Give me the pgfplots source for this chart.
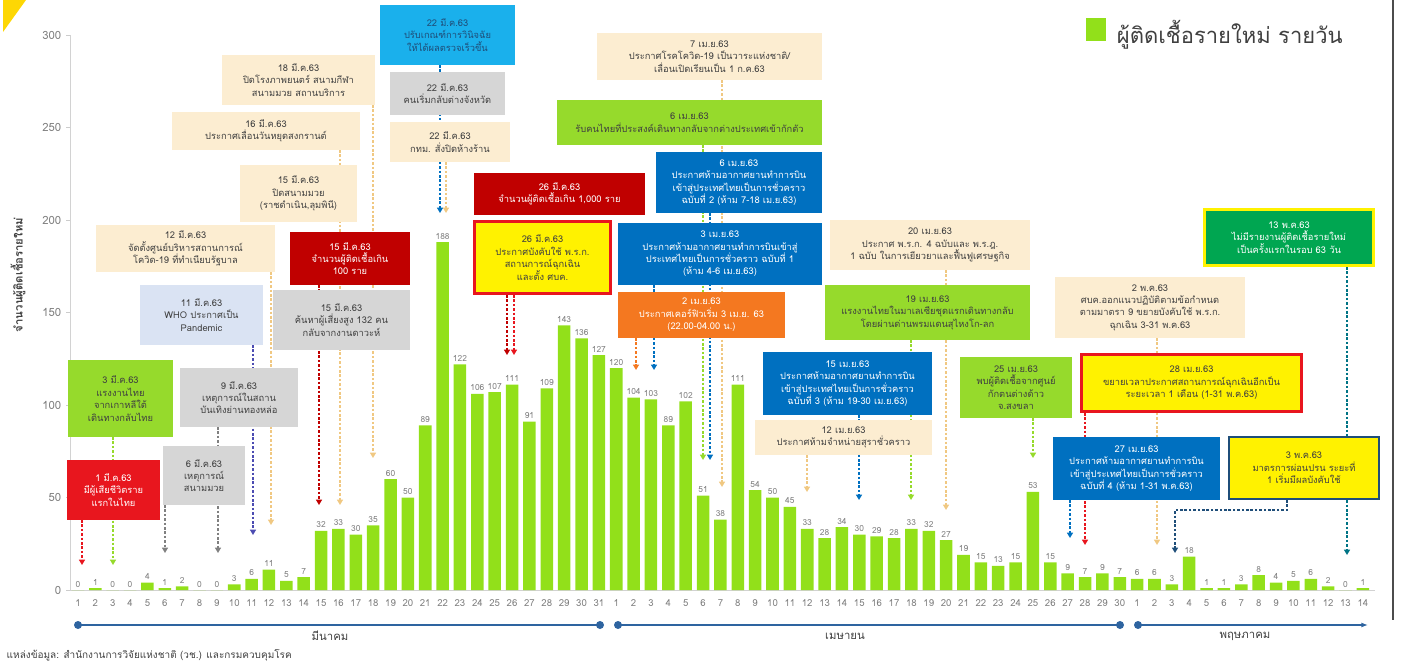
\documentclass[border=0pt]{standalone}
\usepackage{pgfplots}
\usepackage{pgfplotstable}
\pgfplotsset{compat=1.18}
\usepackage{fontspec}
\setmainfont{Loma}[Script=Thai]
\usetikzlibrary{arrows.meta}

\definecolor{barcol}{RGB}{146,224,26}
\definecolor{boxgreen}{RGB}{150,218,44}
\definecolor{beige}{RGB}{252,237,209}
\definecolor{greybox}{RGB}{214,214,214}
\definecolor{whobox}{RGB}{218,227,243}
\definecolor{redbox}{RGB}{232,22,30}
\definecolor{darkred}{RGB}{192,0,0}
\definecolor{cyanbox}{RGB}{26,176,236}
\definecolor{bluebox}{RGB}{0,112,192}
\definecolor{orangebox}{RGB}{244,120,32}
\definecolor{darkgreen}{RGB}{0,166,81}
\definecolor{navy}{RGB}{31,78,121}
\definecolor{tanline}{RGB}{240,200,130}
\definecolor{monthline}{RGB}{46,100,160}
\definecolor{txt}{RGB}{64,64,64}

% daily new cases, 1 Mar - 14 May 2020
\pgfplotstableread{
d v
1 0
2 1
3 0
4 0
5 4
6 1
7 2
8 0
9 0
10 3
11 6
12 11
13 5
14 7
15 32
16 33
17 30
18 35
19 60
20 50
21 89
22 188
23 122
24 106
25 107
26 111
27 91
28 109
29 143
30 136
31 127
32 120
33 104
34 103
35 89
36 102
37 51
38 38
39 111
40 54
41 50
42 45
43 33
44 28
45 34
46 30
47 29
48 28
49 33
50 32
51 27
52 19
53 15
54 13
55 15
56 53
57 15
58 9
59 7
60 9
61 7
62 6
63 6
64 3
65 18
66 1
67 1
68 3
69 8
70 4
71 5
72 6
73 2
74 0
75 1
}\cases

\tikzset{
  bx/.style={inner sep=1pt, align=center, text=txt,
    font=\fontsize{7}{9.3}\selectfont},
  dl/.style={line width=1.1pt, dash pattern=on 2pt off 1.3pt,
    -{Triangle[length=4pt,width=4.5pt]}},
}
% box: centre x, centre y, width, height (pixels), style, text
\newcommand{\bx}[6]{\node[bx,#5,minimum width=#3*0.75pt,minimum height=#4*0.75pt] at (#1,#2) {#6};}
% dashed pointer: colour, x, y from, y to (pixels)
\newcommand{\dl}[4]{\draw[dl,#1] (#2,#3) -- (#2,#4);}

\begin{document}
\begin{tikzpicture}
\path[use as bounding box] (0,0) rectangle (1068pt,498.75pt);
\begin{axis}[
  at={(52.5pt,56.25pt)}, anchor=south west,
  scale only axis, width=978.75pt, height=416.25pt,
  xmin=0.54, xmax=75.7, ymin=0, ymax=300,
  ybar, bar width=9.4pt,
  axis x line*=bottom, axis y line*=left,
  axis line style={draw=gray!35, line width=0.6pt, -},
  ytick={0,50,...,300},
  xtick=data,
  xticklabels={1,2,3,4,5,6,7,8,9,10,11,12,13,14,15,16,17,18,19,20,21,22,23,24,25,26,27,28,29,30,31,
    1,2,3,4,5,6,7,8,9,10,11,12,13,14,15,16,17,18,19,20,21,22,23,24,25,26,27,28,29,30,
    1,2,3,4,5,6,7,8,9,10,11,12,13,14},
  xtick style={draw=none},
  ytick style={draw=gray!40},
  major tick length=3pt, tick align=outside,
  /pgf/number format/assume math mode=true,
  xticklabel style={font=\fontsize{7.2}{8}\selectfont, text=gray, yshift=-3pt, inner sep=1pt},
  yticklabel style={font=\fontsize{8.5}{9}\selectfont, text=gray},
  legend style={at={(0.878,1.004)}, anchor=center, draw=none, fill=none,
    font=\fontsize{16.5}{18}\selectfont, text=txt},
]
\addplot[fill=barcol, draw=none,
  legend image code/.code={\fill[barcol] (0pt,-6pt) rectangle (15pt,11pt);},
  nodes near coords,
  every node near coord/.append style={font=\fontsize{6.3}{7}\selectfont, text=gray, inner sep=2pt}]
  table[x=d, y=v] {\cases};
\addlegendentry{\hspace{6pt}ผู้ติดเชื้อรายใหม่ รายวัน}
\end{axis}

\begin{scope}[x=0.75pt, y=-0.75pt, yshift=498.75pt]
% corner mark and slide border
\fill[yellow!75!orange] (3,0) -- (26,0) -- (3,32) -- cycle;
\draw[line width=1.4pt, black!70] (1393,0) -- (1393,620);

% axis title and source
\node[rotate=90, font=\bfseries\fontsize{8.5}{9}\selectfont, text=txt] at (18,275) {จำนวนผู้ติดเชื้อรายใหม่};
\node[anchor=west, font=\fontsize{7.5}{8}\selectfont, text=txt] at (2,655) {แหล่งข้อมูล: สำนักงานการวิจัยแห่งชาติ (วช.) และกรมควบคุมโรค};

% month bands
\draw[monthline, line width=1.3pt] (78,625) -- (600,625);
\fill[monthline] (78,625) circle (3pt) (600,625) circle (3pt);
\draw[monthline, line width=1.3pt] (618,625) -- (1120,625);
\fill[monthline] (618,625) circle (3pt) (1120,625) circle (3pt);
\draw[monthline, line width=1.3pt, -{Latex[length=5pt]}] (1138,625) -- (1368,625);
\fill[monthline] (1138,625) circle (3pt);
\node[font=\fontsize{8.5}{9}\selectfont, text=txt] at (330,636) {มีนาคม};
\node[font=\fontsize{8.5}{9}\selectfont, text=txt] at (845,636) {เมษายน};
\node[font=\fontsize{8.5}{9}\selectfont, text=txt] at (1245,636) {พฤษภาคม};

% pointers
\dl{redbox}{82}{520}{565}
\dl{boxgreen}{113}{437}{565}
\dl{gray}{165}{505}{553}
\dl{gray}{218}{427}{553}
\dl{gray!60!blue}{253}{345}{535}
\dl{tanline}{271}{272}{525}
\dl{darkred}{319}{285}{505}
\dl{tanline}{340}{150}{505}
\dl{tanline}{373}{105}{458}
\dl{bluebox}{440}{65}{213}
\dl{tanline}{446}{162}{213}
\dl{darkred}{507}{295}{355}
\dl{redbox}{514}{295}{355}
\dl{orangebox}{636}{338}{370}
\dl{bluebox}{654}{285}{370}
\dl{boxgreen}{703}{145}{460}
\dl{bluebox}{710}{213}{460}
\dl{tanline}{722}{80}{487}
\dl{tanline}{807}{455}{492}
\dl{bluebox}{859}{415}{500}
\dl{boxgreen}{911}{340}{500}
\dl{tanline}{946}{270}{510}
\dl{boxgreen}{1033}{418}{458}
\dl{bluebox}{1070}{500}{538}
\dl{redbox}{1085}{413}{545}
\dl{tanline}{1157}{338}{545}
\draw[dl,navy] (1287,500) -- (1287,510) -- (1175,510) -- (1175,553);
\dl{darkgreen!70!blue}{1347}{267}{555}

% March
\bx{113.5}{490}{93}{60}{fill=redbox,text=white}{1 มี.ค.63\\มีผู้เสียชีวิตราย\\แรกในไทย}
\bx{120.5}{398.5}{105}{77}{fill=boxgreen}{3 มี.ค.63\\แรงงานไทย\\จากเกาหลีใต้\\เดินทางกลับไทย}
\bx{204}{475.5}{82}{59}{fill=greybox}{6 มี.ค.63\\เหตุการณ์\\สนามมวย}
\bx{239}{397.5}{118}{59}{fill=greybox}{9 มี.ค.63\\เหตุการณ์ในสถาน\\บันเทิงย่านทองหล่อ}
\bx{201.5}{315}{123}{60}{fill=whobox}{11 มี.ค.63\\WHO ประกาศเป็น\\Pandemic}
\bx{185.5}{248.5}{179}{47}{fill=beige}{12 มี.ค.63\\จัดตั้งศูนย์บริหารสถานการณ์\\โควิด-19 ที่ทำเนียบรัฐบาล}
\bx{298.5}{193.5}{117}{57}{fill=beige}{15 มี.ค.63\\ปิดสนามมวย\\(ราชดำเนิน,ลุมพินี)}
\bx{266}{131}{188}{38}{fill=beige}{16 มี.ค.63\\ประกาศเลื่อนวันหยุดสงกรานต์}
\bx{298.5}{80}{153}{50}{fill=beige}{18 มี.ค.63\\ปิดโรงภาพยนตร์ สนามกีฬา\\สนามมวย สถานบริการ}
\bx{350}{258.5}{120}{53}{fill=darkred,text=white}{15 มี.ค.63\\จำนวนผู้ติดเชื้อเกิน\\100 ราย}
\bx{341.5}{320}{137}{60}{fill=greybox}{15 มี.ค.63\\ค้นหาผู้เสี่ยงสูง 132 คน\\กลับจากงานดาวะห์}
\bx{447.5}{35}{135}{60}{fill=cyanbox,text=navy}{22 มี.ค.63\\ปรับเกณฑ์การวินิจฉัย\\ให้ได้ผลตรวจเร็วขึ้น}
\bx{447.5}{93.5}{115}{43}{fill=greybox}{22 มี.ค.63\\คนเริ่มกลับต่างจังหวัด}
\bx{450}{142}{120}{40}{fill=beige}{22 มี.ค.63\\กทม. สั่งปิดห้างร้าน}
\bx{559.5}{194}{171}{42}{fill=darkred,text=white}{26 มี.ค.63\\จำนวนผู้ติดเชื้อเกิน 1,000 ราย}
\bx{542.5}{257.5}{136}{72}{fill=yellow,draw=redbox,line width=1.6pt}{26 มี.ค.63\\ประกาศบังคับใช้ พ.ร.ก.\\สถานการณ์ฉุกเฉิน\\และตั้ง ศบค.}

% April
\bx{709.5}{56.5}{225}{47}{fill=beige}{7 เม.ย.63\\ประกาศโรคโควิด-19 เป็นวาระแห่งชาติ/\\เลื่อนเปิดเรียนเป็น 1 ก.ค.63}
\bx{689.5}{122.5}{265}{45}{fill=boxgreen}{6 เม.ย.63\\รับคนไทยที่ประสงค์เดินทางกลับจากต่างประเทศเข้ากักตัว}
\bx{739}{182.5}{166}{61}{fill=bluebox,text=white}{6 เม.ย.63\\ประกาศห้ามอากาศยานทำการบิน\\เข้าสู่ประเทศไทยเป็นการชั่วคราว\\ฉบับที่ 2 (ห้าม 7-18 เม.ย.63)}
\bx{720}{254}{204}{62}{fill=bluebox,text=white}{3 เม.ย.63\\ประกาศห้ามอากาศยานทำการบินเข้าสู่\\ประเทศไทยเป็นการชั่วคราว ฉบับที่ 1\\(ห้าม 4-6 เม.ย.63)}
\bx{701.5}{315}{167}{46}{fill=orangebox,text=white}{2 เม.ย.63\\ประกาศเคอร์ฟิวเริ่ม 3 เม.ย. 63\\(22.00-04.00 น.)}
\bx{930}{245}{200}{50}{fill=beige}{20 เม.ย.63\\ประกาศ พ.ร.ก. 4 ฉบับและ พ.ร.ฎ.\\1 ฉบับ ในการเยียวยาและฟื้นฟูเศรษฐกิจ}
\bx{927.5}{312.5}{205}{55}{fill=boxgreen}{19 เม.ย.63\\แรงงานไทยในมาเลเซียชุดแรกเดินทางกลับ\\โดยผ่านด่านพรมแดนสุไหงโก-ลก}
\bx{847.5}{383.5}{169}{63}{fill=bluebox,text=white}{15 เม.ย.63\\ประกาศห้ามอากาศยานทำการบิน\\เข้าสู่ประเทศไทยเป็นการชั่วคราว\\ฉบับที่ 3 (ห้าม 19-30 เม.ย.63)}
\bx{843.5}{437.5}{177}{35}{fill=beige}{12 เม.ย.63\\ประกาศห้ามจำหน่ายสุราชั่วคราว}
\bx{1016}{387.5}{112}{61}{fill=boxgreen}{25 เม.ย.63\\พบผู้ติดเชื้อจากศูนย์\\กักตนต่างด้าว\\จ.สงขลา}
\bx{1191.5}{383}{220}{57}{fill=yellow,draw=redbox,line width=2.2pt}{28 เม.ย.63\\ขยายเวลาประกาศสถานการณ์ฉุกเฉินอีกเป็น\\ระยะเวลา 1 เดือน (1-31 พ.ค.63)}
\bx{1136.5}{468.5}{167}{63}{fill=bluebox,text=white}{27 เม.ย.63\\ประกาศห้ามอากาศยานทำการบิน\\เข้าสู่ประเทศไทยเป็นการชั่วคราว\\ฉบับที่ 4 (ห้าม 1-31 พ.ค.63)}

% May
\bx{1150}{307.5}{190}{61}{fill=beige}{2 พ.ค.63\\ศบค.ออกแนวปฏิบัติตามข้อกำหนด\\ตามมาตรา 9 ขยายบังคับใช้ พ.ร.ก.\\ฉุกเฉิน 3-31 พ.ค.63}
\bx{1304}{468}{150}{62}{fill=yellow,draw=navy,line width=1.6pt}{3 พ.ค.63\\มาตรการผ่อนปรน ระยะที่\\1 เริ่มมีผลบังคับใช้}
\bx{1289}{237.5}{169}{56}{fill=darkgreen,draw=yellow,line width=2.2pt,text=white}{13 พ.ค.63\\ไม่มีรายงานผู้ติดเชื้อรายใหม่\\เป็นครั้งแรกในรอบ 63 วัน}
\end{scope}
\end{tikzpicture}
\end{document}
